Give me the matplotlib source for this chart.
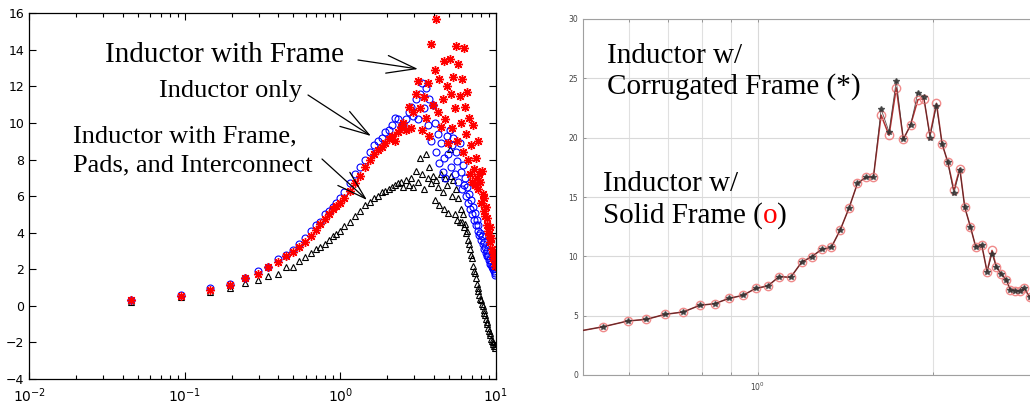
import matplotlib
matplotlib.use('Agg')
import matplotlib.pyplot as plt
from matplotlib.ticker import FixedLocator, NullFormatter, LogLocator, LogFormatterSciNotation

# ---------------- Left panel data ----------------
freq_low = [0.045, 0.095, 0.145, 0.195, 0.245, 0.295, 0.345, 0.395, 0.445, 0.495,
            0.545, 0.595, 0.645, 0.695, 0.745, 0.795, 0.845, 0.895, 0.945, 0.995]
freq_high = [1.05, 1.15, 1.25, 1.35, 1.45, 1.55, 1.65, 1.75, 1.85, 1.95,
             2.05, 2.15, 2.25, 2.35, 2.45, 2.55, 2.65, 2.75, 2.85, 2.95,
             3.05, 3.15, 3.25, 3.35, 3.45, 3.55, 3.65, 3.75, 3.85, 3.95,
             4.05, 4.15, 4.25, 4.35, 4.45, 4.55, 4.65, 4.75, 4.85, 4.95,
             5.05, 5.15, 5.25, 5.35, 5.45, 5.55, 5.65, 5.75, 5.85, 5.95,
             6.05, 6.15, 6.25, 6.35, 6.45, 6.55, 6.65, 6.75, 6.85, 6.95,
             7.05, 7.15, 7.25, 7.35, 7.45, 7.55, 7.65, 7.75, 7.85, 7.95,
             8.05, 8.15, 8.25, 8.35, 8.45, 8.55, 8.65, 8.75, 8.85, 8.95,
             9.05, 9.15, 9.25, 9.35, 9.45, 9.55, 9.65, 9.75, 9.85, 9.95]

inductor_only_low = [0.3, 0.6, 0.95, 1.2, 1.55, 1.9, 2.15, 2.55, 2.8, 3.05,
                     3.4, 3.7, 4.1, 4.4, 4.6, 5.0, 5.2, 5.4, 5.6, 5.9]
inductor_only_high = [6.2, 6.7, 7.2, 7.6, 8.0, 8.4, 8.8, 9.0, 9.2, 9.5,
                      9.6, 9.9, 10.3, 10.2, 9.8, 9.9, 10.2, 10.6, 10.9, 10.4,
                      11.3, 10.2, 11.6, 12.2, 10.8, 11.9, 9.9, 11.3, 9.0, 11.0,
                      10.0, 8.4, 9.4, 7.8, 8.9, 7.3, 8.1, 7.0, 9.3, 8.3,
                      9.6, 7.6, 8.8, 9.2, 7.2, 8.4, 7.9, 6.8, 8.9, 7.3,
                      6.4, 7.7, 6.6, 7.0, 6.0, 6.5, 5.6, 6.1, 5.3, 5.8,
                      5.0, 5.4, 4.7, 5.1, 4.4, 4.7, 4.1, 4.4, 3.9, 4.0,
                      3.6, 3.8, 3.4, 3.5, 3.1, 3.2, 2.9, 3.0, 2.7, 2.7,
                      2.5, 2.5, 2.3, 2.3, 2.1, 2.1, 2.0, 1.9, 1.8, 1.7]

with_frame_low = [0.3, 0.55, 0.85, 1.15, 1.5, 1.75, 2.15, 2.4, 2.75, 2.95,
                  3.2, 3.5, 3.8, 4.15, 4.5, 4.75, 5.0, 5.3, 5.45, 5.65]
with_frame_high = [5.9, 6.3, 6.7, 7.1, 7.6, 8.0, 8.3, 8.5, 8.7, 8.9,
                   9.1, 9.3, 9.0, 9.5, 9.8, 10.0, 9.6, 10.9, 9.7, 10.6,
                   11.6, 12.3, 10.8, 9.6, 11.4, 10.3, 12.2, 9.3, 14.3, 11.0,
                   12.9, 15.7, 10.6, 12.4, 9.8, 11.3, 13.4, 10.2, 12.0, 8.9,
                   13.5, 11.6, 9.7, 12.5, 10.8, 14.2, 9.0, 13.2, 11.5, 10.0,
                   12.4, 8.4, 14.1, 10.9, 9.4, 11.7, 8.0, 10.3, 7.2, 8.8,
                   6.8, 9.9, 7.5, 6.6, 8.1, 7.0, 6.4, 9.0, 7.2, 6.8,
                   5.6, 7.4, 6.1, 5.2, 5.9, 4.9, 5.4, 4.4, 4.8, 4.1,
                   3.9, 4.3, 3.5, 3.7, 3.1, 2.9, 2.6, 2.8, 2.4, 2.2]

frame_pads_low = [0.2, 0.5, 0.75, 0.95, 1.25, 1.4, 1.64, 1.75, 2.1, 2.15,
                  2.45, 2.65, 2.9, 3.1, 3.2, 3.4, 3.6, 3.8, 3.95, 4.1]
frame_pads_high = [4.35, 4.6, 4.9, 5.2, 5.5, 5.7, 5.9, 6.0, 6.2, 6.3,
                   6.4, 6.5, 6.6, 6.7, 6.8, 6.5, 6.9, 6.6, 7.0, 6.5,
                   7.4, 6.8, 8.1, 7.2, 6.4, 8.3, 7.0, 7.6, 6.7, 7.1,
                   5.8, 6.9, 6.5, 5.5, 7.2, 6.2, 5.3, 7.0, 6.6, 5.1,
                   8.6, 7.1, 6.0, 6.9, 5.0, 6.4, 4.7, 5.9, 4.6, 5.3,
                   4.6, 5.0, 4.3, 4.5, 4.0, 4.1, 3.6, 3.4, 3.1, 2.8,
                   2.6, 2.2, 1.9, 1.8, 1.5, 1.2, 1.0, 0.8, 0.6, 0.4,
                   0.3, 0.1, 0.0, -0.2, -0.4, -0.5, -0.7, -0.9, -1.0, -1.2,
                   -1.4, -1.5, -1.6, -1.8, -1.9, -2.0, -2.1, -2.2, -2.2, -2.3]

left_yticks = [-4, -2, 0, 2, 4, 6, 8, 10, 12, 14, 16]

# ---------------- Right panel data ----------------
freq_r = [0.48, 0.542, 0.597, 0.643, 0.692, 0.744, 0.794, 0.843, 0.892, 0.943,
          0.991, 1.040, 1.088, 1.139, 1.190, 1.238, 1.288, 1.338, 1.386, 1.436,
          1.484, 1.534, 1.581, 1.630, 1.682, 1.731, 1.780, 1.832, 1.886, 1.931,
          1.978, 2.030, 2.076, 2.123, 2.175, 2.227, 2.271, 2.322, 2.372, 2.429,
          2.481, 2.530, 2.574, 2.626, 2.678, 2.720, 2.774, 2.829, 2.874, 2.936, 2.99]
solid_frame = [3.6, 4.07, 4.55, 4.69, 5.11, 5.31, 5.87, 6.01, 6.46, 6.71,
               7.30, 7.50, 8.29, 8.23, 9.52, 9.97, 10.59, 10.76, 12.22, 14.10,
               16.15, 16.66, 16.66, 21.9, 20.2, 24.2, 19.86, 21.07, 23.2, 23.3,
               20.2, 22.9, 19.47, 17.95, 15.6, 17.4, 14.13, 12.5, 10.8, 10.96,
               8.7, 10.5, 9.1, 8.5, 8.0, 7.16, 7.1, 7.08, 7.3, 6.6, 6.4]
corrugated_frame = [3.6, 4.07, 4.55, 4.69, 5.11, 5.31, 5.87, 6.01, 6.46, 6.71,
                    7.30, 7.50, 8.29, 8.23, 9.52, 9.97, 10.59, 10.76, 12.22, 14.10,
                    16.15, 16.66, 16.66, 22.4, 20.5, 24.8, 19.86, 21.07, 23.8, 23.45,
                    20.0, 22.7, 19.47, 17.95, 15.3, 17.3, 14.13, 12.5, 10.8, 10.96,
                    8.7, 10.2, 9.1, 8.5, 8.0, 7.16, 7.1, 7.08, 7.3, 6.6, 6.4]
right_yticks = [0, 5, 10, 15, 20, 25, 30]

# ---------------- Figure ----------------
W, H = 1030, 404
fig = plt.figure(figsize=(10.3, 4.04), dpi=100)


def fp(px, py):
    return (px / W, 1 - py / H)


serif = ['Liberation Serif', 'DejaVu Serif']

# Left axes
ax1 = fig.add_axes([29.3 / W, 1 - 379 / H, 466.4 / W, 365.7 / H])
ax1.set_xscale('log')
freq = freq_low + freq_high
ax1.plot(freq, frame_pads_low + frame_pads_high, ls='none', marker='^',
         mfc='none', mec='black', ms=5, mew=0.8)
ax1.plot(freq, inductor_only_low + inductor_only_high, ls='none', marker='o',
         mfc='none', mec='blue', ms=5, mew=0.8)
ax1.plot(freq, with_frame_low + with_frame_high, ls='none', marker=(8, 2, 0),
         color='red', mec='red', ms=6.5, mew=1.0)
ax1.set_xlim(1e-2, 1e1)
ax1.set_ylim(-4, 16)
ax1.set_yticks(left_yticks)
ax1.xaxis.set_major_locator(LogLocator(base=10, numticks=10))
ax1.xaxis.set_major_formatter(LogFormatterSciNotation())
ax1.xaxis.set_minor_locator(LogLocator(base=10, subs=range(2, 10), numticks=20))
ax1.xaxis.set_minor_formatter(NullFormatter())
ax1.tick_params(which='both', direction='in', top=True, right=True,
                labelsize=9, width=0.8)
ax1.tick_params(which='major', length=5)
ax1.tick_params(which='minor', length=3)
ax1.tick_params(axis='x', pad=5, labelsize=10)
for s in ax1.spines.values():
    s.set_linewidth(0.9)

# Left annotations
fig.text(*fp(105, 62), 'Inductor with Frame', fontsize=21, family=serif,
         ha='left', va='baseline')
fig.text(*fp(159, 97), 'Inductor only', fontsize=19, family=serif,
         ha='left', va='baseline')
fig.text(*fp(73, 142), 'Inductor with Frame,', fontsize=19, family=serif,
         ha='left', va='baseline')
fig.text(*fp(73, 171), 'Pads, and Interconnect', fontsize=19, family=serif,
         ha='left', va='baseline')

arrows = [((358, 60), (418, 69)), ((308, 95), (371, 136)), ((322, 159), (367, 200))]
for start, tip in arrows:
    fig.add_artist(matplotlib.patches.FancyArrowPatch(
        fp(*start), fp(*tip), transform=fig.transFigure,
        arrowstyle='->,head_length=1.05,head_width=0.32', mutation_scale=20,
        color='black', lw=0.9, shrinkA=0, shrinkB=0))

# Right axes
ax2 = fig.add_axes([583 / W, 1 - 375 / H, 452 / W, 356 / H])
ax2.set_xscale('log')
ax2.plot(freq_r, solid_frame, color='#b03030', lw=1.1, marker='o', ms=6,
         mfc='none', mec='#f08a8a', mew=1.0, zorder=3)
ax2.plot(freq_r, corrugated_frame, color='#3a2a2a', lw=0.6, marker='*', ms=4,
         mfc='#333333', mec='#333333', alpha=0.8, zorder=4)
ax2.set_xlim(0.5, 3.0)
ax2.set_ylim(0, 30)
ax2.set_yticks(right_yticks)
ax2.xaxis.set_major_locator(FixedLocator([1.0]))
ax2.xaxis.set_major_formatter(LogFormatterSciNotation())
ax2.xaxis.set_minor_locator(FixedLocator([0.6, 0.7, 0.8, 0.9, 2.0, 3.0]))
ax2.xaxis.set_minor_formatter(NullFormatter())
ax2.grid(True, which='major', color='#d9d9d9', lw=0.8)
ax2.grid(True, which='minor', axis='x', color='#e0e0e0', lw=0.8)
ax2.set_axisbelow(True)
ax2.tick_params(which='both', direction='in', top=True, right=True,
                labelsize=5.5, labelcolor='#444444', color='#888888',
                length=2.5, width=0.6)
ax2.tick_params(axis='x', pad=4)
for s in ax2.spines.values():
    s.set_color('#a0a0a0')
    s.set_linewidth(0.8)

# Right annotations
fig.text(*fp(607, 62.7), 'Inductor w/', fontsize=21, family=serif,
         ha='left', va='baseline')
fig.text(*fp(607, 94), 'Corrugated Frame (*)', fontsize=21, family=serif,
         ha='left', va='baseline')
fig.text(*fp(603, 190.7), 'Inductor w/', fontsize=21, family=serif,
         ha='left', va='baseline')
t1 = fig.text(*fp(603, 222.7), 'Solid Frame (', fontsize=21, family=serif,
              ha='left', va='baseline')
fig.canvas.draw()
renderer = fig.canvas.get_renderer()
bb = t1.get_window_extent(renderer)
t2 = fig.text(bb.x1 / W, 1 - 222.7 / H, 'o', fontsize=21, family=serif,
              color='red', ha='left', va='baseline')
bb2 = t2.get_window_extent(renderer)
fig.text(bb2.x1 / W, 1 - 222.7 / H, ')', fontsize=21, family=serif,
         ha='left', va='baseline')

fig.savefig('out.png', dpi=100)
